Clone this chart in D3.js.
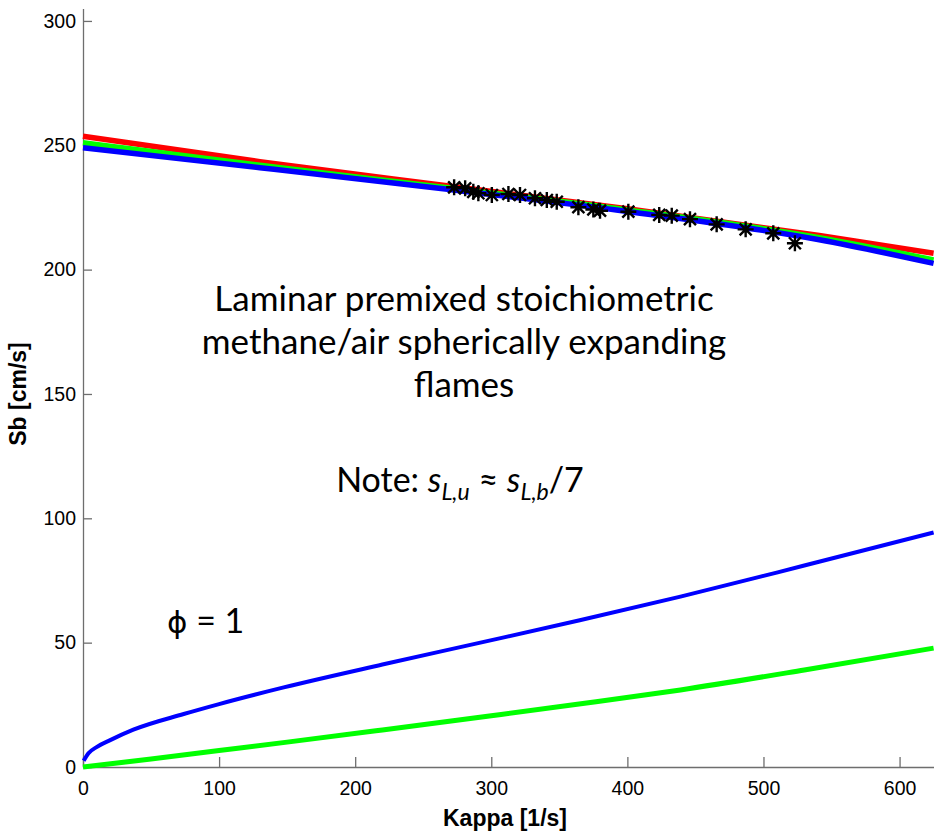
<!DOCTYPE html>
<html>
<head>
<meta charset="utf-8">
<script src="https://cdnjs.cloudflare.com/ajax/libs/d3/7.8.5/d3.min.js"></script>
<style>
	body { margin: 0; background: #fff; }
	svg { display: block; }
</style>
</head>
<body>
<div id="chart"></div>
<script>
//Data: kappa [1/s] against Sb [cm/s]

var upper_red   = [[0, 253.6], [130, 243.4], [263, 234.0], [400, 224.5], [541, 213.7], [625, 206.6]];
var upper_green = [[0, 251.0], [130, 242.0], [263, 233.2], [400, 224.0], [541, 212.8], [625, 203.9]];
var upper_blue  = [[0, 249.0], [130, 241.0], [263, 232.6], [400, 223.4], [541, 212.0], [625, 202.5]];

var lower_blue  = [[0.5, 2.5], [4, 5.5], [10, 8.0], [20, 10.8], [37, 15.0], [74, 21.3], [100, 25.3], [147.5, 32.0],
	[220, 41.2], [292, 50.0], [365, 59.0], [439, 68.5], [530, 81.0], [625, 94.3]];
var lower_green = [[0, 0], [50, 3.2], [100, 6.6], [150, 10.0], [220, 14.9], [300, 20.6], [370, 25.7],
	[439, 31.0], [530, 39.0], [625, 47.8]];

//measured points (black asterisks)
var stars = [[272.7, 233.1], [280.8, 232.7], [286.8, 231.3], [290.5, 230.7], [300.4, 230.0], [312.6, 230.4],
	[321.1, 230.0], [332.1, 228.7], [340.8, 228.0], [348.1, 227.3], [364.0, 225.1], [375.0, 224.2],
	[379.9, 223.7], [400.7, 223.3], [423.4, 222.0], [432.6, 221.7], [446.0, 220.3], [465.6, 218.2],
	[486.9, 216.2], [507.2, 214.6], [523.1, 210.6]];

var x_ticks = [0, 100, 200, 300, 400, 500, 600];
var y_ticks = [0, 50, 100, 150, 200, 250, 300];

var title_lines = ["Laminar premixed stoichiometric", "methane/air spherically expanding", "flames"];

var width = 934;
var height = 832;

var svg = d3.select("#chart")
	.append("svg")
		.attr("width", width)
		.attr("height", height);

var x = d3.scaleLinear().domain([0, 625.3]).range([83, 934]);
var y = d3.scaleLinear().domain([0, 305]).range([767, 8.5]);

//axes, MATLAB style: ticks pointing inwards, no box
var x_axis = svg.append("g")
	.attr("transform", "translate(0," + y(0) + ")")
	.call(d3.axisBottom(x).tickValues(x_ticks).tickSizeInner(-10).tickSizeOuter(0).tickPadding(14));

var y_axis = svg.append("g")
	.attr("transform", "translate(" + x(0) + ",0)")
	.call(d3.axisLeft(y).tickValues(y_ticks).tickSizeInner(-9).tickSizeOuter(0).tickPadding(7));

[x_axis, y_axis].forEach(function(axis)
	{
		axis.select(".domain").attr("stroke", "#6e6e6e").attr("stroke-width", 1.3);
		axis.selectAll(".tick line").attr("stroke", "#6e6e6e").attr("stroke-width", 1.3);
		axis.selectAll(".tick text")
			.attr("fill", "#000")
			.style("font-family", "'Liberation Sans', Arial, sans-serif")
			.style("font-size", "19.5px");
	}
);

svg.append("text")
	.attr("x", 505)
	.attr("y", 826)
	.attr("text-anchor", "middle")
	.style("font-family", "'Liberation Sans', Arial, sans-serif")
	.style("font-weight", "bold")
	.style("font-size", "23px")
	.text("Kappa [1/s]");

svg.append("text")
	.attr("transform", "translate(26,394) rotate(-90)")
	.attr("text-anchor", "middle")
	.style("font-family", "'Liberation Sans', Arial, sans-serif")
	.style("font-weight", "bold")
	.style("font-size", "23px")
	.text("Sb [cm/s]");

//curves
var line = d3.line()
	.x(function(d) { return x(d[0]); })
	.y(function(d) { return y(d[1]); })
	.curve(d3.curveMonotoneX);

var curves = [
	{data: upper_red, color: "#ff0000", w: 5.5},
	{data: upper_green, color: "#00ff00", w: 5.5},
	{data: upper_blue, color: "#0000ff", w: 5.5},
	{data: lower_green, color: "#00ff00", w: 5},
	{data: lower_blue, color: "#0000ff", w: 4}
];

svg.append("g")
	.selectAll("path")
	.data(curves)
	.enter()
		.append("path")
			.attr("d", function(d) { return line(d.data); })
			.attr("fill", "none")
			.attr("stroke", function(d) { return d.color; })
			.attr("stroke-width", function(d) { return d.w; });

//asterisks: a plus and a cross on top of each other
var star_path = "M-8,0H8M0,-8V8M-6,-6L6,6M-6,6L6,-6";

svg.append("g")
	.selectAll("path")
	.data(stars)
	.enter()
		.append("path")
			.attr("transform", function(d) { return "translate(" + x(d[0]) + "," + y(d[1]) + ")"; })
			.attr("d", star_path)
			.attr("fill", "none")
			.attr("stroke", "#000")
			.attr("stroke-width", 2.4);

//annotations
var note_font = "Lato, 'Noto Sans', sans-serif";

svg.append("g")
	.selectAll("text")
	.data(title_lines)
	.enter()
		.append("text")
			.attr("x", 464)
			.attr("y", function(d, i) { return 311 + i * 43; })
			.attr("text-anchor", "middle")
			.style("font-family", note_font)
			.style("font-size", "35px")
			.text(function(d) { return d; });

var note = svg.append("text")
	.attr("x", 460)
	.attr("y", 492)
	.attr("text-anchor", "middle")
	.style("font-family", note_font)
	.style("font-size", "34px");

note.append("tspan").text("Note: ");
note.append("tspan").style("font-style", "italic").text("s");
note.append("tspan").style("font-style", "italic").style("font-size", "23px").attr("dy", 8).text("L,u");
note.append("tspan").attr("dy", -8).text(" \u2248 ");
note.append("tspan").style("font-style", "italic").text("s");
note.append("tspan").style("font-style", "italic").style("font-size", "23px").attr("dy", 8).text("L,b");
note.append("tspan").attr("dy", -8).text("/7");

var phi = svg.append("text")
	.attr("x", 167)
	.attr("y", 633)
	.style("font-family", note_font)
	.style("font-size", "34px");

phi.append("tspan").style("font-family", "'DejaVu Sans', sans-serif").style("font-size", "31px").text("\u03d5");
phi.append("tspan").text(" = 1");
</script>
</body>
</html>
